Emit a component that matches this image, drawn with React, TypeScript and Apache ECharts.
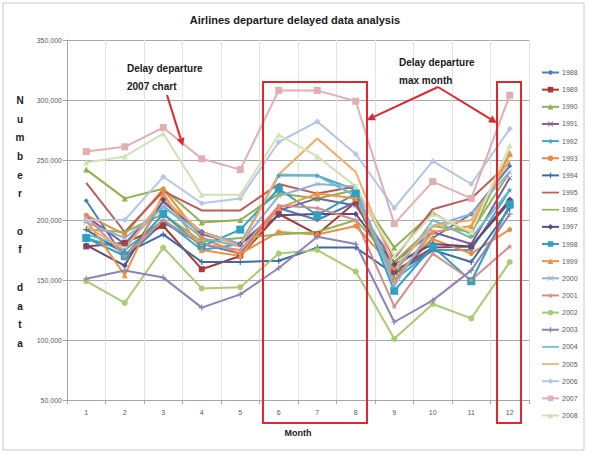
import { useEffect, useRef } from "react";
import * as echarts from "echarts";

// Months on the category axis
const months = ["1", "2", "3", "4", "5", "6", "7", "8", "9", "10", "11", "12"];

// Value axis range and step
const yMin = 50000;
const yMax = 350000;
const yStep = 50000;

// Delayed departures per month, one array per year
const y1988 = [216000, 168000, 198000, 180000, 172000, 210000, 200000, 215000, 150000, 185000, 205000, 245000];
const y1989 = [178000, 181000, 195000, 159000, 170000, 205000, 188000, 215000, 157000, 177000, 178000, 215000];
const y1990 = [242000, 218000, 226000, 198000, 200000, 222000, 218000, 225000, 177000, 206000, 188000, 256000];
const y1991 = [203000, 180000, 215000, 188000, 180000, 208000, 218000, 212000, 165000, 190000, 180000, 235000];
const y1992 = [185000, 175000, 200000, 175000, 180000, 237000, 237000, 225000, 150000, 175000, 175000, 225000];
const y1993 = [204000, 188000, 226000, 185000, 172000, 190000, 188000, 195000, 160000, 184000, 172000, 192000];
const y1994 = [192000, 172000, 188000, 165000, 165000, 166000, 177000, 177000, 155000, 175000, 165000, 210000];
const y1995 = [231000, 190000, 224000, 208000, 208000, 230000, 222000, 228000, 168000, 209000, 218000, 248000];
const y1996 = [192000, 190000, 205000, 182000, 185000, 188000, 190000, 200000, 165000, 195000, 190000, 240000];
const y1997 = [179000, 162000, 217000, 190000, 180000, 204000, 205000, 205000, 163000, 180000, 178000, 217000];
const y1998 = [185000, 170000, 205000, 178000, 192000, 226000, 204000, 222000, 141000, 178000, 149000, 213000];
const y1999 = [200000, 154000, 222000, 175000, 170000, 210000, 222000, 218000, 150000, 190000, 195000, 255000];
const y2000 = [198000, 185000, 210000, 190000, 180000, 220000, 230000, 228000, 145000, 195000, 205000, 240000];
const y2001 = [203000, 170000, 200000, 180000, 175000, 212000, 210000, 200000, 128000, 172000, 150000, 178000];
const y2002 = [149000, 131000, 177000, 143000, 144000, 172000, 175000, 157000, 101000, 130000, 118000, 165000];
const y2003 = [151000, 158000, 152000, 127000, 138000, 160000, 186000, 180000, 115000, 133000, 158000, 205000];
const y2004 = [188000, 178000, 212000, 185000, 178000, 238000, 237000, 220000, 155000, 200000, 185000, 225000];
const y2005 = [195000, 175000, 218000, 190000, 178000, 238000, 268000, 240000, 160000, 195000, 200000, 250000];
const y2006 = [200000, 200000, 236000, 214000, 218000, 265000, 282000, 255000, 210000, 249000, 230000, 276000];
const y2007 = [257000, 261000, 277000, 251000, 242000, 308000, 308000, 299000, 197000, 232000, 218000, 304000];
const y2008 = [248000, 253000, 272000, 221000, 221000, 271000, 253000, 228000, 170000, 205000, 190000, 262000];

const years = [
  "1988", "1989", "1990", "1991", "1992", "1993", "1994", "1995", "1996", "1997", "1998",
  "1999", "2000", "2001", "2002", "2003", "2004", "2005", "2006", "2007", "2008",
];
const yearValues = [
  y1988, y1989, y1990, y1991, y1992, y1993, y1994, y1995, y1996, y1997, y1998,
  y1999, y2000, y2001, y2002, y2003, y2004, y2005, y2006, y2007, y2008,
];

const yearColors = [
  "#4A7EBB", "#A83A38", "#8FB24E", "#7A5E9E", "#43A6C2", "#F08A3C", "#3D6BA8",
  "#C05A57", "#90B556", "#5E4A86", "#2FA0C0", "#F3923F", "#93B1D8", "#D98C8C",
  "#AACA73", "#8E83B6", "#6BBCD2", "#F8AA6A", "#B4C6E4", "#E2AEB2", "#D3E1B6",
];

const X_MARK = "path://M0,1L1,0L5,4L9,0L10,1L6,5L10,9L9,10L5,6L1,10L0,9L4,5Z";
const PLUS_MARK = "path://M4,0H6V4H10V6H6V10H4V6H0V4H4Z";
const STAR_MARK = "path://M5,0L6.2,3.6L10,3.6L7,5.9L8.1,9.5L5,7.3L1.9,9.5L3,5.9L0,3.6L3.8,3.6Z";
const PLAIN_LINE_ICON = "path://M0,0H20V2H0Z";

const yearSymbols = [
  "diamond", "rect", "triangle", X_MARK, STAR_MARK, "circle", PLUS_MARK,
  "none", "none", "diamond", "rect", "triangle", X_MARK, STAR_MARK,
  "circle", PLUS_MARK, "none", "none", "diamond", "rect", "triangle",
];
const yearSymbolSizes = [5, 6, 6, 5, 6, 5, 6, 6, 6, 6, 8, 6, 5, 6, 6, 6, 5, 5, 6, 7, 6];

const FONT = "'Liberation Sans', Arial, sans-serif";
const RED = "#E2262B";

// Line with a filled arrowhead at (x2, y2)
function arrow(x1: number, y1: number, x2: number, y2: number) {
  const dx = x2 - x1;
  const dy = y2 - y1;
  const len = Math.hypot(dx, dy);
  const ux = dx / len;
  const uy = dy / len;
  const head = 8;
  const half = 4;
  const bx = x2 - ux * head;
  const by = y2 - uy * head;
  return [
    {
      type: "line",
      shape: { x1, y1, x2: bx, y2: by },
      style: { stroke: RED, lineWidth: 2 },
    },
    {
      type: "polygon",
      shape: {
        points: [
          [x2, y2],
          [bx - uy * half, by + ux * half],
          [bx + uy * half, by - ux * half],
        ],
      },
      style: { fill: RED },
    },
  ];
}

export default function App() {
  const ref = useRef<HTMLDivElement>(null);

  useEffect(() => {
    document.body.style.margin = "0";
    if (!ref.current) return;
    const chart = echarts.init(ref.current, undefined, { renderer: "svg" });

    const series = years.map((name, i) => ({
      name,
      type: "line",
      data: yearValues[i],
      symbol: yearSymbols[i],
      symbolSize: yearSymbolSizes[i],
      showSymbol: yearSymbols[i] !== "none",
      lineStyle: { width: 2, color: yearColors[i] },
      itemStyle: { color: yearColors[i], borderWidth: 0 },
      emphasis: { disabled: true },
    }));

    // Years drawn without markers get a plain line in the legend
    const legendData = years.map((name, i) =>
      yearSymbols[i] === "none"
        ? { name, icon: PLAIN_LINE_ICON, itemStyle: { color: yearColors[i] } }
        : { name }
    );

    chart.setOption({
      animation: false,
      backgroundColor: "#ffffff",
      textStyle: { fontFamily: FONT },
      title: {
        text: "Airlines departure delayed data analysis",
        left: 290,
        top: 9,
        textAlign: "center",
        textStyle: { fontSize: 11, fontWeight: "bold", color: "#1a1a1a", fontFamily: FONT },
      },
      grid: { left: 67, right: 60, top: 40, bottom: 55 },
      legend: {
        orient: "vertical",
        left: 536,
        top: 64,
        itemWidth: 17,
        itemHeight: 7,
        itemGap: 10.15,
        textStyle: { fontSize: 7, color: "#595959", fontFamily: FONT, padding: [0, 0, 0, -2] },
        data: legendData,
      },
      xAxis: {
        type: "category",
        data: months,
        boundaryGap: true,
        axisLine: { lineStyle: { color: "#A6A6A6" } },
        axisTick: { show: true, alignWithLabel: false, length: 4, lineStyle: { color: "#A6A6A6" } },
        axisLabel: { fontSize: 7, color: "#595959", margin: 9 },
        splitLine: { show: true, lineStyle: { color: "#E3E3E3" } },
      },
      yAxis: {
        type: "value",
        min: yMin,
        max: yMax,
        interval: yStep,
        axisLine: { show: true, lineStyle: { color: "#A6A6A6" } },
        axisTick: { show: true, length: 4, lineStyle: { color: "#A6A6A6" } },
        axisLabel: {
          fontSize: 7,
          color: "#595959",
          margin: 5,
          formatter: (v: number) => v.toLocaleString("en-US"),
        },
        splitLine: { show: true, lineStyle: { color: "#A8A8A8" } },
      },
      graphic: [
        {
          type: "rect",
          shape: { x: 3, y: 3, width: 581, height: 447 },
          style: { fill: "none", stroke: "#C8C8C8", lineWidth: 1 },
          z: -1,
        },
        {
          type: "text",
          x: 20,
          y: 91,
          style: {
            text: "N\nu\nm\nb\ne\nr\n\no\nf\n\nd\na\nt\na",
            fontSize: 10,
            fontWeight: "bold",
            lineHeight: 18.7,
            textAlign: "center",
            fill: "#1a1a1a",
            fontFamily: FONT,
          },
        },
        {
          type: "text",
          x: 298,
          y: 428,
          style: {
            text: "Month",
            fontSize: 9,
            fontWeight: "bold",
            textAlign: "center",
            fill: "#1a1a1a",
            fontFamily: FONT,
          },
        },
        {
          type: "text",
          x: 127,
          y: 59,
          style: {
            text: "Delay departure\n2007 chart",
            fontSize: 10,
            fontWeight: "bold",
            lineHeight: 18,
            fill: "#1a1a1a",
            fontFamily: FONT,
          },
          z: 20,
        },
        {
          type: "text",
          x: 399,
          y: 53,
          style: {
            text: "Delay departure\nmax month",
            fontSize: 10,
            fontWeight: "bold",
            lineHeight: 18,
            fill: "#1a1a1a",
            fontFamily: FONT,
          },
          z: 20,
        },
        {
          type: "rect",
          shape: { x: 263, y: 82, width: 104, height: 341 },
          style: { fill: "none", stroke: RED, lineWidth: 2 },
          z: 20,
        },
        {
          type: "rect",
          shape: { x: 497, y: 82, width: 24, height: 341 },
          style: { fill: "none", stroke: RED, lineWidth: 2 },
          z: 20,
        },
        ...arrow(167, 95, 183, 146).map((g) => ({ ...g, z: 20 })),
        ...arrow(438, 87, 367, 120).map((g) => ({ ...g, z: 20 })),
        ...arrow(438, 87, 497, 123).map((g) => ({ ...g, z: 20 })),
      ],
      series,
    });

    return () => chart.dispose();
  }, []);

  return <div ref={ref} style={{ width: 589, height: 455 }} />;
}
